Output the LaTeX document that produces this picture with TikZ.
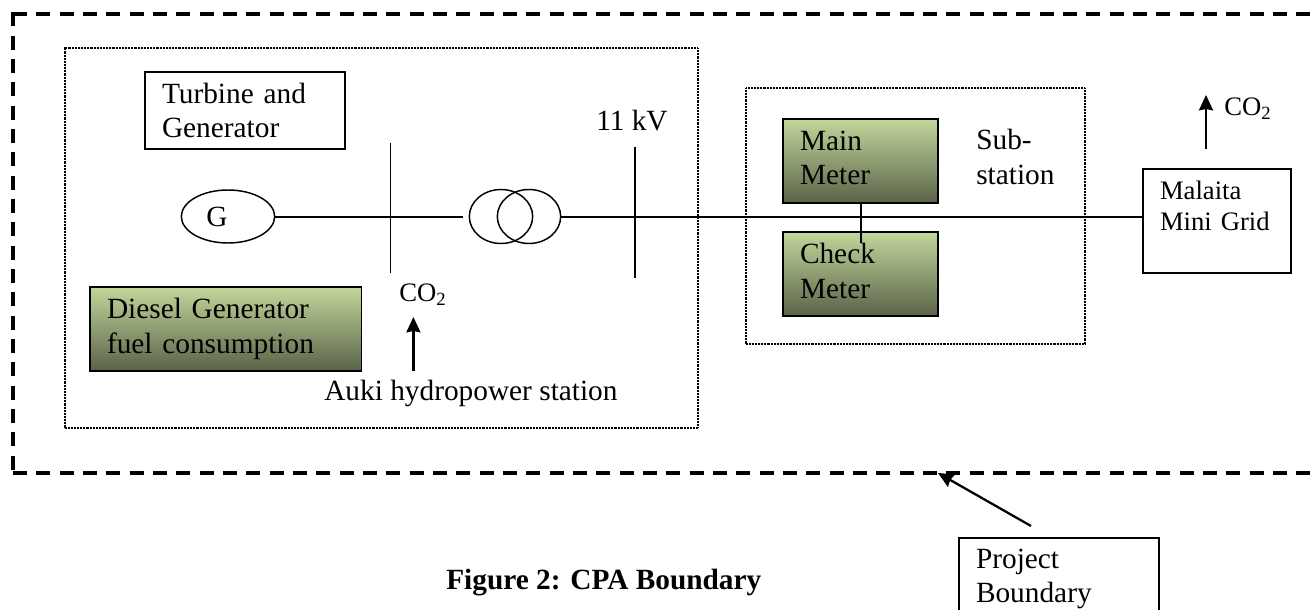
\documentclass[tikz,border=0pt]{standalone}
\usepackage{fontspec}
\setmainfont{Liberation Serif}
\usetikzlibrary{shapes,arrows.meta,positioning}
\definecolor{MeterLight}{HTML}{C2D69B}
\definecolor{MeterMid}{HTML}{A8BA85}
\definecolor{MeterDark}{HTML}{5A6348}
\newcommand{\lowline}{\rule[-4.5pt]{0pt}{0pt}}
\tikzset{
    % Base text size
    basetext/.style={
        font=\fontsize{22}{25.9}\selectfont,
        align=left,
        inner sep=0pt
    },
    % Solid box
    plainbox/.style={
        basetext,
        draw=black,
        line width=1.1pt,
        inner xsep=12.75pt,
        inner ysep=0pt,
        fill=white
    },
    % Shaded box
    shadedbox/.style={
        plainbox,
        top color=MeterLight,
        middle color=MeterMid,
        bottom color=MeterDark
    },
    % Meter box
    meterbox/.style={
        shadedbox,
        text width=90.75pt,
        minimum height=63pt
    },
    % Dotted area
    areabox/.style={
        draw=black,
        line width=1pt,
        dash pattern=on 0.6pt off 0.5pt,
        inner sep=0pt
    },
    % Round symbols
    roundsym/.style={
        ellipse,
        draw=black,
        line width=1.1pt,
        inner sep=0pt
    },
    % Lines
    busline/.style={
        line width=1.1pt,
        draw=black
    },
    mainline/.style={
        line width=1.5pt,
        draw=black
    },
    myarrow/.style={
        -{Stealth[length=11.5pt,width=10.5pt,inset=1pt]},
        line width=1.7pt,
        draw=black
    },
    % Outer dashed line
    boundaryline/.style={
        line width=2.5pt,
        draw=black,
        dash pattern=on 10.5pt off 7pt
    },
    % CO2 label
    gaslabel/.style={
        font=\fontsize{20}{24}\selectfont,
        inner sep=0pt,
        anchor=base west
    }
}
\begin{document}
\begin{tikzpicture}[x=0.75pt,y=-0.75pt]
        \useasboundingbox (0,0) rectangle (1314,610);
        \clip (0,0) rectangle (1314,610);

        % Dotted areas
        \node[areabox, minimum width=474.75pt, minimum height=285pt] (station) at (381.5,238) {};
        \node[areabox, minimum width=254.25pt, minimum height=192pt] (substation) at (915.5,216) {};

        % Outer boundary
        \coordinate (tl) at (13,14);
        \coordinate (tc) at (13,12.4);
        \coordinate (tr) at (1314,14);
        \coordinate (bl) at (13,473);
        \coordinate (br) at (1314,473);
        \draw[boundaryline] (tl) -- (tr);
        \draw[boundaryline] (tc) -- (bl);
        \draw[boundaryline] (bl) -- (br);

        % Boxes
        \node[plainbox, text width=124.5pt, minimum height=57.75pt] (turbine) at (245,110.5) {Turbine and\\Generator};
        \node[shadedbox, text width=178.2pt, minimum height=63pt] (diesel) at (225.8,329) {Diesel Generator\\fuel consumption};
        \node[meterbox] (mainm) at (860.5,161) {Main\\Meter\lowline};
        \node[meterbox] (checkm) at (860.5,274) {Check\\Meter\lowline};
        \node[plainbox, font=\fontsize{20}{23.25}\selectfont, text width=85.5pt, minimum height=78pt] (grid) at (1217,221) {Malaita\\Mini Grid\\~};
        \node[plainbox, text width=124.5pt, minimum height=61.5pt] (project) at (1059,579) {Project\\Boundary};

        % Generator and transformer
        \node[roundsym, basetext, minimum width=70pt, minimum height=39.75pt] (gen) at (228,216.5) {G\hspace*{16.5pt}};
        \node[roundsym, minimum width=47.5pt, minimum height=40.5pt] (tra) at (501,216.5) {};
        \node[roundsym, minimum width=47.5pt, minimum height=40.5pt] (trb) at (529,216.5) {};

        % Buses
        \coordinate (busat) at (390.5,143);
        \coordinate (busab) at (390.5,273);
        \coordinate (busbt) at (635,147);
        \coordinate (busbb) at (635,278);
        \coordinate (meterend) at (861,243);
        \draw[busline] (busat) -- (busab);
        \draw[busline] (busbt) -- (busbb);
        \draw[mainline, shorten >=4.5pt] (gen.east) -- (tra.west);
        \draw[mainline] (trb.east) -- (trb.east -| grid.west);
        \draw[mainline] (mainm.south -| meterend) -- (meterend);

        % Labels
        \node[basetext, anchor=base west] (kv) at (596,131) {11 kV};
        \node[basetext, anchor=west] (sublabel) at (976,157) {Sub-\\station};
        \node[basetext, anchor=base west] (auki) at (324,400) {Auki hydropower station};
        \node[gaslabel] (coa) at (399,301) {CO\textsubscript{2}};
        \node[gaslabel] (cob) at (1224,115) {CO\textsubscript{2}};
        \node[basetext, font=\fontsize{22}{25.9}\selectfont\bfseries, anchor=base west] (caption) at (446,589) {Figure 2: CPA Boundary};

        % Arrows
        \coordinate (arra) at (413.4,371);
        \coordinate (tipa) at (413.4,317);
        \coordinate (arrb) at (1206,149);
        \coordinate (tipb) at (1206,95);
        \coordinate (arrc) at (1031,526);
        \coordinate (tipc) at (938,473);
        \draw[myarrow] (arra) -- (tipa);
        \draw[myarrow] (arrb) -- (tipb);
        \draw[myarrow] (arrc) -- (tipc);
    \end{tikzpicture}
\end{document}
